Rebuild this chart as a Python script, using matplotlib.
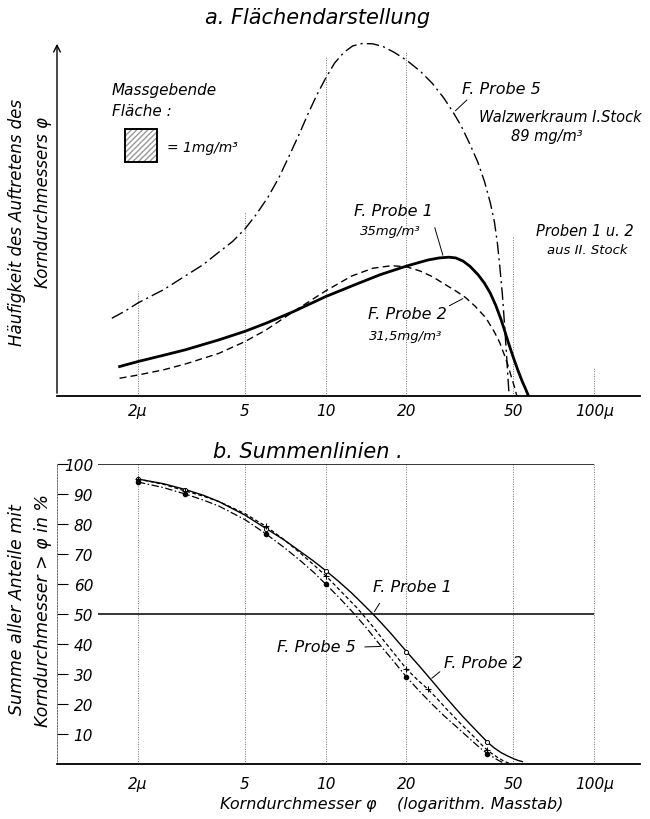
import matplotlib
matplotlib.use('Agg')
import matplotlib.pyplot as plt
from matplotlib.patches import Rectangle

# Schrift: schmale Kursivschrift, falls vorhanden
plt.rcParams['font.family'] = ['Liberation Sans Narrow', 'DejaVu Sans']
plt.rcParams['font.style'] = 'italic'

# ---- Daten a. Flaechendarstellung (relative Haeufigkeit) ----
d_p5 = [1.6, 1.8, 2.0, 2.5, 3.0, 3.5, 4.0, 4.5, 5.0, 5.5, 6.1, 6.7, 7.3, 8.0, 8.6, 9.3,
        10.0, 10.8, 11.7, 12.6, 13.7, 15.0, 16.4, 18.0, 20.0, 22.5, 25.0, 27.5, 29.9,
        32.0, 34.4, 36.8, 39.0, 41.0, 42.5, 43.6, 44.5, 45.5, 46.4, 47.1, 47.7, 48.2]
h_p5 = [21.9, 24.0, 26.2, 30.0, 33.8, 37.0, 40.5, 43.5, 47.0, 51.0, 56.0, 61.5, 67.5, 74.0,
        79.5, 85.0, 89.5, 93.8, 96.8, 98.6, 99.3, 99.2, 98.4, 96.8, 94.6, 91.5, 88.0, 84.0,
        79.8, 76.0, 71.0, 66.0, 60.5, 54.5, 49.0, 43.0, 36.5, 28.5, 19.6, 12.0, 5.5, 0.0]

d_p1 = [1.71, 2.0, 2.5, 3.0, 4.0, 5.0, 6.0, 7.6, 10.0, 13.0, 16.0, 20.0, 24.0, 26.5,
        28.8, 30.5, 32.5, 34.5, 36.9, 39.0, 41.0, 43.0, 45.0, 46.3, 48.0, 50.0, 52.0,
        54.0, 55.5, 56.9]
h_p1 = [8.3, 9.7, 11.5, 13.0, 15.8, 18.2, 20.5, 23.8, 28.0, 31.5, 34.2, 36.6, 38.3, 38.9,
        39.1, 38.9, 38.0, 36.5, 34.2, 31.8, 29.0, 25.5, 21.5, 18.6, 14.8, 10.8, 7.2,
        4.0, 2.0, 0.0]

d_p2 = [1.71, 2.0, 2.5, 3.0, 4.0, 5.0, 6.0, 7.6, 10.0, 12.5, 15.0, 17.6, 20.0, 22.5,
        25.0, 28.0, 30.5, 33.1, 36.0, 39.5, 42.5, 44.5, 46.3, 47.9, 49.2, 50.5, 51.5]
h_p2 = [5.0, 5.9, 7.4, 9.0, 12.0, 15.3, 18.6, 23.8, 29.6, 33.8, 36.0, 36.7, 36.4, 35.2,
        33.6, 31.3, 29.6, 27.8, 25.3, 22.0, 18.0, 15.0, 11.5, 8.3, 5.2, 2.5, 0.0]

# ---- Daten b. Summenlinien (%) ----
s_d1 = [2, 2.5, 3, 3.5, 4, 5, 6, 7, 8, 9, 10, 11.2, 12.5, 13.7, 15, 16.2, 17.5, 18.7,
        20, 22.5, 25, 27.5, 30, 32.5, 35, 37.5, 40, 42.5, 45, 47.5, 50, 52, 54]
s_v1 = [95, 93.4, 91.5, 89.6, 87.5, 83, 78.5, 74.7, 71, 67.7, 64.5, 60.8, 57, 53.5, 50,
        46.8, 43.5, 40.5, 37.5, 32.3, 27.5, 23.1, 19.2, 15.7, 12.7, 9.9, 7.3, 5.3, 3.8,
        2.7, 1.8, 1.2, 0.8]

s_d2 = [2, 2.5, 3, 3.5, 4, 5, 6, 7, 8, 9, 10, 11, 12, 13, 13.7, 15, 16.5, 18, 20, 22,
        24, 26, 28, 30, 32, 34, 36, 38, 40, 42, 44, 46, 48]
s_v2 = [95, 93.2, 91, 89.3, 87.5, 83.5, 79.2, 74.8, 70.5, 66.5, 62.8, 59, 55.5, 52.3, 50,
        45.8, 41, 36.8, 31.7, 28, 25, 21.8, 18.6, 15.8, 13.2, 10.9, 8.7, 6.5, 4.6, 3.2,
        2.0, 1.0, 0.3]

s_d5 = [2, 2.5, 3, 3.5, 4, 5, 6, 7, 8, 9, 10, 11.3, 12.8, 14.3, 16, 18, 20, 22.5, 25,
        27.5, 30, 32.5, 35, 37.5, 40, 42, 44, 46]
s_v5 = [94, 92.1, 90, 88, 86, 81.5, 76.7, 72.2, 68, 64, 60, 55.2, 50, 45, 39.5, 34, 29,
        24, 19.8, 16.2, 13.2, 10.4, 7.8, 5.4, 3.5, 2.3, 1.2, 0.3]

# Messpunkte
m_d1 = [2, 3, 6, 10, 20, 40]
m_v1 = [95, 91.5, 78.5, 64.5, 37.5, 7.3]
m_d2 = [2, 3, 6, 10, 20, 24, 40]
m_v2 = [95, 91, 79.2, 62.8, 31.7, 25, 4.6]
m_d5 = [2, 3, 6, 10, 20, 40]
m_v5 = [94, 90, 76.7, 60, 29, 3.5]

xticks = [2, 5, 10, 20, 50, 100]
xlabels = ['2μ', '5', '10', '20', '50', '100μ']
grid_top = [29.6, 51.8, 95.5, 97.2, 45, 8.2]   # Hoehe der Hilfslinien oben
yticks = [10, 20, 30, 40, 50, 60, 70, 80, 90, 100]

W, H = 650, 820
def px(x, y):
    return (x / W, 1 - y / H)

fig = plt.figure(figsize=(6.5, 8.2), dpi=100)
fig.patch.set_facecolor('white')

dashdot = (0, (9, 3, 1.5, 3))
dashed = (0, (5, 3))

# ================= a. Flaechendarstellung =================
ax1 = fig.add_axes([57 / W, 1 - 397 / H, 583 / W, 355 / H])
ax1.set_xscale('log')
ax1.set_xlim(1.0, 148)
ax1.set_ylim(0, 100)
for s in ['top', 'right', 'left']:
    ax1.spines[s].set_visible(False)
ax1.spines['bottom'].set_linewidth(1.3)
ax1.set_yticks([])
ax1.set_xticks(xticks)
ax1.set_xticklabels(xlabels)
ax1.minorticks_off()
ax1.tick_params(axis='x', length=0, pad=5, labelsize=11)
ax1.annotate('', xy=(0, 1.0), xycoords='axes fraction', xytext=(0, 0),
             arrowprops=dict(arrowstyle='->', lw=1.0, color='black', mutation_scale=12))

for x, h in zip(xticks, grid_top):
    ax1.vlines(x, 0, h, colors='0.45', linestyles=(0, (1, 1.5)), lw=0.7)

ax1.plot(d_p5, h_p5, color='black', lw=1.0, ls=dashdot)
ax1.plot(d_p1, h_p1, color='black', lw=2.0)
ax1.plot(d_p2, h_p2, color='black', lw=1.0, ls=dashed)

fig.text(*px(318, 18), 'a. Flächendarstellung', fontsize=15, ha='center', va='center')
fig.text(*px(17, 222), 'Häufigkeit des Auftretens des', fontsize=12, rotation=90,
         ha='center', va='center')
fig.text(*px(43, 203), 'Korndurchmessers φ', fontsize=12, rotation=90,
         ha='center', va='center')

fig.text(*px(112, 90), 'Massgebende', fontsize=11, ha='left', va='center')
fig.text(*px(112, 112), 'Fläche :', fontsize=11, ha='left', va='center')
fig.add_artist(Rectangle(px(125, 163), 32 / W, 33 / H, transform=fig.transFigure,
                         facecolor='white', edgecolor='0.6', hatch='//////', lw=0))
fig.add_artist(Rectangle(px(125, 163), 32 / W, 33 / H, transform=fig.transFigure,
                         facecolor='none', edgecolor='black', lw=1.4))
fig.text(*px(167, 148), '= 1mg/m³', fontsize=10, ha='left', va='center')

fig.text(*px(462, 90), 'F. Probe 5', fontsize=11.5, ha='left', va='center')
fig.text(*px(560, 118), 'Walzwerkraum I.Stock', fontsize=10.5, ha='center', va='center')
fig.text(*px(547, 136), '89 mg/m³', fontsize=10.5, ha='center', va='center')
ax1.annotate('', xy=(29.9, 79.8), xytext=px(469, 99), textcoords='figure fraction',
             arrowprops=dict(arrowstyle='-', lw=0.7, color='black'))

fig.text(*px(393, 212), 'F. Probe 1', fontsize=11.5, ha='center', va='center')
fig.text(*px(390, 231), '35mg/m³', fontsize=9.5, ha='center', va='center')
ax1.annotate('', xy=(27.5, 38.9), xytext=px(434, 226), textcoords='figure fraction',
             arrowprops=dict(arrowstyle='-', lw=0.7, color='black'))

fig.text(*px(407, 315), 'F. Probe 2', fontsize=11.5, ha='center', va='center')
fig.text(*px(406, 337), '31,5mg/m³', fontsize=9.5, ha='center', va='center')
ax1.annotate('', xy=(33.1, 27.8), xytext=px(447, 308), textcoords='figure fraction',
             arrowprops=dict(arrowstyle='-', lw=0.7, color='black'))

fig.text(*px(585, 231), 'Proben 1 u. 2', fontsize=10.5, ha='center', va='center')
fig.text(*px(587, 250), 'aus II. Stock', fontsize=9.5, ha='center', va='center')

# ================= b. Summenlinien =================
ax2 = fig.add_axes([57 / W, 1 - 765 / H, 583 / W, 300 / H])
ax2.set_xscale('log')
ax2.set_xlim(1.0, 148)
ax2.set_ylim(0, 100)
ax2.spines['top'].set_visible(False)
ax2.spines['right'].set_visible(False)
ax2.spines['bottom'].set_linewidth(1.3)
ax2.spines['left'].set_linewidth(0.6)
ax2.spines['left'].set_linestyle((0, (2, 1.5)))
ax2.spines['left'].set_color('0.35')
ax2.set_xticks(xticks)
ax2.set_xticklabels(xlabels)
ax2.minorticks_off()
ax2.tick_params(axis='x', length=0, pad=9, labelsize=11)
ax2.set_yticks(yticks)
ax2.set_yticklabels([str(v) for v in yticks])
ax2.tick_params(axis='y', direction='in', length=8, width=0.8, pad=-26, labelsize=11)

for x in xticks:
    ax2.vlines(x, 0, 100, colors='0.45', linestyles=(0, (1, 1.5)), lw=0.7)
ax2.hlines([100, 50], 1.42, 100, colors='black', lw=1.1)

ax2.plot(s_d1, s_v1, color='black', lw=1.0)
ax2.plot(s_d2, s_v2, color='black', lw=0.9, ls=(0, (3, 2)))
ax2.plot(s_d5, s_v5, color='black', lw=0.9, ls=(0, (6, 2, 1.2, 2)))
ax2.plot(m_d1, m_v1, ls='none', marker='o', ms=3, mfc='white', mec='black', mew=0.7)
ax2.plot(m_d2, m_v2, ls='none', marker='+', ms=4, mec='black', mew=0.8)
ax2.plot(m_d5, m_v5, ls='none', marker='o', ms=3, mfc='black', mec='black')

fig.text(*px(308, 452), 'b. Summenlinien .', fontsize=15, ha='center', va='center')
fig.text(*px(17, 610), 'Summe aller Anteile mit', fontsize=12.5, rotation=90,
         ha='center', va='center')
fig.text(*px(43, 611), 'Korndurchmesser > φ in %', fontsize=12.5, rotation=90,
         ha='center', va='center')
fig.text(*px(392, 805), 'Korndurchmesser φ    (logarithm. Masstab)', fontsize=11.5,
         ha='center', va='center')

fig.text(*px(412, 588), 'F. Probe 1', fontsize=11.5, ha='center', va='center')
ax2.annotate('', xy=(15, 50), xytext=px(381, 602), textcoords='figure fraction',
             arrowprops=dict(arrowstyle='-', lw=0.7, color='black'))
fig.text(*px(356, 648), 'F. Probe 5', fontsize=11.5, ha='right', va='center')
ax2.annotate('', xy=(16.3, 39.2), xytext=px(362, 648), textcoords='figure fraction',
             arrowprops=dict(arrowstyle='-', lw=0.7, color='black'))
fig.text(*px(483, 664), 'F. Probe 2', fontsize=11.5, ha='center', va='center')
ax2.annotate('', xy=(24.4, 28.0), xytext=px(442, 671), textcoords='figure fraction',
             arrowprops=dict(arrowstyle='-', lw=0.7, color='black'))

fig.savefig('out.png', dpi=100, facecolor='white')
